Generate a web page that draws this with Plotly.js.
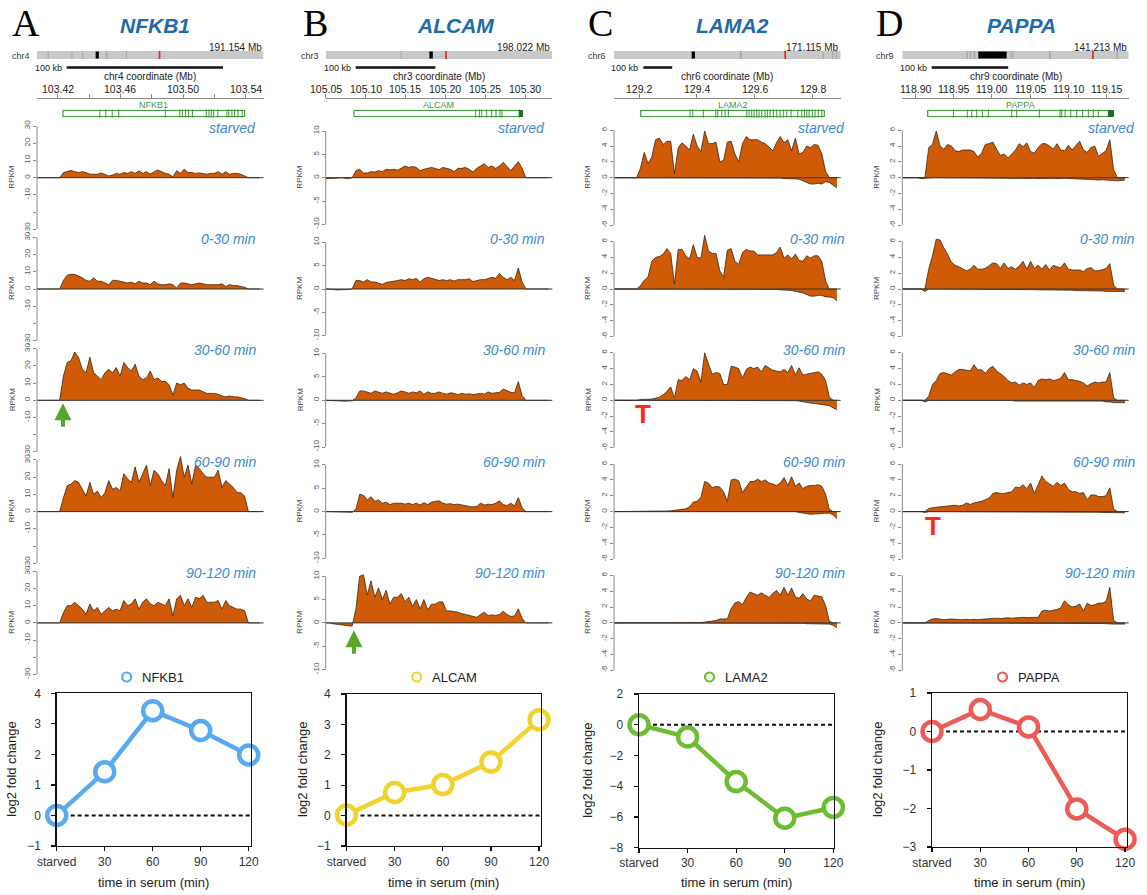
<!DOCTYPE html>
<html><head><meta charset="utf-8">
<script src="https://cdn.plot.ly/plotly-3.0.1.min.js"></script>
<style>html,body{margin:0;padding:0;background:#fff;}#chart{width:1147px;height:895px;}</style>
</head><body><div id="chart"></div>
<script>
// ================= DATA =================
const geneNames = ['NFKB1','ALCAM','LAMA2','PAPPA'];
const panelLetters = ['A','B','C','D'];
const chromNames = ['chr4','chr3','chr6','chr9'];
const chromLengthMb = [191.154,198.022,171.115,141.213];
const centromereBandsMb = [[[49.5,52.2]],[[90.6,93.6]],[[58.6,61.1]],[[47.4,65.1]]];
const faintBandsMb = [
  [[9,10],[29,30],[38,39],[58,59.5],[75,76]],
  [[65.5,66.5]],
  [[95,96.5],[157.5,158.5],[164.5,165.5],[167.5,168.5]],
  [[40,41],[42,43],[44.5,45.5],[67.3,68],[68.5,69.2],[91.5,92.5],[133.5,134.5]]
];
const viewStartMb = [103.4066,105.05,129.1136,118.883];
const viewEndMb = [103.5515,105.3342,129.8967,119.1788];
const binSizeMb = [0.002415,0.004737,0.013052,0.00493];
const coordTickVals = [
  [103.42,103.44,103.46,103.48,103.50,103.52,103.54],
  [105.05,105.10,105.15,105.20,105.25,105.30],
  [129.2,129.4,129.6,129.8],
  [118.90,118.95,119.00,119.05,119.10,119.15]
];
const coordTickText = [
  ['103.42','','103.46','','103.50','','103.54'],
  ['105.05','105.10','105.15','105.20','105.25','105.30'],
  ['129.2','129.4','129.6','129.8'],
  ['118.90','118.95','119.00','119.05','119.10','119.15']
];
const geneStartMb = [103.4232,105.0854,129.2058,118.9162];
const geneEndMb = [103.5394,105.2966,129.8401,119.1587];
const exonsNFKB1 = [103.4468,103.4506,103.4547,103.4589,103.4887,103.4979,103.4996,103.5017,103.5036,103.5060,103.5149,103.5166,103.5181,103.5196,103.5223,103.5281,103.5293,103.5313,103.5330,103.5351,103.5379];
const exonsALCAM = [105.2381,105.2427,105.2457,105.2519,105.2582,105.2636,105.2686,105.2711,105.2928];
const exonsLAMA2 = [129.3762,129.3855,129.4222,129.4650,129.4719,129.4857,129.4972,129.5086,129.5722,129.5801,129.5894,129.5974,129.6067,129.6147,129.6240,129.6354,129.6434,129.6527,129.6641,129.6759,129.6872,129.6986,129.7104,129.7253,129.7485,129.7623,129.7713,129.7796,129.7874,129.7988,129.8082,129.8196,129.8314];
const exonsPAPPA = [118.9497,118.9679,118.9737,118.9802,118.9876,118.9954,119.0260,119.0325,119.0621,119.0891,119.0913,119.0956,119.1031,119.1109,119.1187,119.1261,119.1326,119.1391];
const filledEndMb = [null,[105.2928,105.2966],null,[119.1522,119.1587]];
const scaleBarStartMb = [103.4256,105.0876,129.2149,118.9214];
const scaleBarKb = 100;
const rpkmTicks = [[-30,-20,-10,0,10,20,30],[-10,-5,0,5,10],[-6,-4,-2,0,2,4,6],[-6,-4,-2,0,2,4,6]];
const rpkmTickText = [['-30','','-10','0','10','20','30'],['-10','-5','0','5','10'],['-6','-4','-2','0','2','4','6'],['-6','-4','-2','0','2','4','6']];
const sampleLabels = ['starved','0-30 min','30-60 min','60-90 min','90-120 min'];

// RPKM per genomic bin (60 bins per locus)
const nfkb1_starved = [0,0,0,0,0,0,0,3,3.5,4.2, 3.5,3,3.5,3,2,1.8,2,2.8,2,1, 1.5,2.5,2,3,2.5,3.5,2.5,4,2.5,3.5, 2.2,3.5,4.5,3.5,2.5,2,0.5,4,2.5,5, 3,3,2.5,2.8,2.5,2,2.5,2.5,3.5,2, 3.5,2,2.5,2.5,2,1,0,0,0,0];
const nfkb1_0_30 = [0,0,0,0,0,0,0,5,8,8.5, 8.5,7.5,6.5,5,4.5,6.5,4.5,4.5,3.5,2.5, 5,5,4.5,4,3.5,4,3,4.5,3.5,3.5, 2.5,4.5,3,2.5,2.5,3,2.5,0.5,3.5,3.5, 3,2.5,3,3.5,3,2.5,2.5,2.5,2.5,3, 1.5,2.5,2,2,1.5,1,0,0,0,0];
const nfkb1_30_60 = [0,0,0,0,0,0,0,14,22,23, 28,25,18,16,25,16,14,12,16,18, 16,19,14,22,19,17,21,14,12,13, 17,12,13,11,11,9,3,10,9,10, 7,6,6,6,5,4,4,4,3.5,2.5, 2,2.5,2,2,1.5,1,0,0,0,0];
const nfkb1_60_90 = [0,0,0,0,0,0,0,8,15,16, 18,17,13,9,17,10,12,8,11,18, 13,14,12,22,19,17,26,17,22,27, 15,24,22,18,15,25,8,24,32,20, 27,16,27,25,22,20,20,20,24,14, 18,16,14,11,11,9,0,0,0,0];
const nfkb1_90_120 = [0,0,0,0,0,0,0,6,10,10, 12,10,8,5,11,7,9,5,7,9, 7,8,7,13,10,11,14,8,12,14, 11,10,12,11,10,14,4,14,16,10, 14,9,15,14,16,12,12,12,13,8, 13,10,9,8,8,7,0,0,0,0];

const alcam_starved = [-0.2,-0.2,-0.2,-0.1,0,-0.1,-0.2,0,1.5,1.8, 1,1,1.3,1.2,1.5,1.3,1.8,1.7,1.8,1.6, 2,2.5,2.2,2.4,2.2,1.5,1.8,2,2.2,2, 1.7,2.2,2,1.8,1.3,2,2,2.2,1.8,1.2, 2,2.5,3,2.2,2.5,2,2.5,3.3,2.5,1.5, 2.5,3.4,2,0,0,0,0,0,0,0];
const alcam_0_30 = [0,0,-0.1,-0.2,-0.2,-0.2,-0.1,0,1.8,1.8, 1.5,2,1.5,1.5,1.2,1,1.4,1.5,1.6,1.8, 2,1.8,2.2,2,2.3,1.5,2.2,2.5,2.3,2, 1.8,2,1.8,2,1.7,2,2,2,2.2,1.6, 1.8,2,2,2.2,2.5,2.3,3.3,2.5,2,2.5, 1.8,4.5,1.5,0,0,0,0,0,0,0];
const alcam_30_60 = [0,0,0,-0.1,-0.15,-0.2,-0.2,-0.1,0.5,2, 2,1.8,1.5,2,1.7,1.5,1.8,1.5,1.3,1.6, 2,1.8,1.5,1.8,1.6,2,1.3,1.8,1.5,1.5, 1.8,1.5,1.3,1.6,1.5,1.2,1.5,1.3,1.4,1.2, 1.3,1.5,1.3,1.8,1.5,1.6,1.7,2.4,2,1.7, 1.6,4,1,0,0,0,0,0,0,0];
const alcam_60_90 = [0,0,0,-0.15,-0.15,-0.15,-0.15,-0.15,0.5,3.7, 3.5,2.5,3.2,2.2,2.5,1.8,2,1.5,1.8,1.8, 1.8,1.6,1.8,1.5,1.8,1.4,1.9,1.5,2,2.2, 2.3,1.8,1.6,1.7,1.5,1.6,1.4,1.3,1.1,1, 1.1,1.8,1.4,1.6,1.5,1.8,2.3,1.5,1.3,1.8, 1.2,3,0.8,0,0,0,0,0,0,0];
const alcam_90_120 = [0,0,-0.2,-0.3,-0.4,-0.5,-0.5,-0.7,3,10, 10.3,6,9,5.5,7.5,5,7,4,5.5,5.5, 6.3,4.5,5.5,3.5,5,3,5,2.8,4,4, 4.5,4.5,2.5,2.6,2.4,2.3,2,1.8,1.7,1.4, 1.2,1.8,2.3,1.6,1.7,1.6,1.8,2.5,1.8,1.4, 1.5,3,1,0,0,0,0,0,0,0];

const lama2_starved = [0,0,0,0,0,0,0,1.2,3.2,1.8, 2.6,4.8,5,4.2,4.6,4.6,0.5,3.8,4.4,4, 3.5,5.5,4,3.3,5.9,4.3,4.3,4.5,2,2.2, 4.5,4.6,3,2,4.3,5.2,4.8,4.8,4.8,4.5, 4.3,3.9,3.4,4.4,5.2,4.4,4.8,3.4,5,3, 3.2,4,3.8,4.2,4.1,3,0.8,0,0,0];
const lama2_0_30 = [0,0,0,0,0,0,0,0.4,1.1,1.5, 3.5,4,4.1,4.4,5.1,4.5,0.6,5,5,4.2, 3.8,5.6,4,3.9,6.8,4.8,4.5,4.5,2.3,1.5, 4.9,5.1,3.5,3.1,4.6,5,4.8,4.8,4.3,4.3, 4.3,4.3,4.3,4.6,5.3,3.9,4.3,3.8,4.4,3.6, 3.5,4.2,3.9,4.2,4.2,3.5,1,0,0,0];
const lama2_30_60 = [0,0,0,0,0,0,0,0.1,0.1,0.1, 0.15,0.25,0.4,0.7,1.1,1.7,0.3,2.6,2.5,3, 2.6,4,3.7,2.3,6,4.6,3.3,3.5,3.4,2, 2,4.3,4.2,4,2.8,3.9,4.2,4,4.2,3.6, 4.4,4.1,3.8,3.7,3.6,3.9,3.5,4.4,3.2,4.1, 3.2,3.3,3.4,3.5,3.6,3.3,2.5,0.4,0,0];
const lama2_60_90 = [0,0,0,0,0,0,0,0,0,0, 0.02,0.03,0.05,0.05,0.08,0.1,0.15,0.2,0.25,0.35, 0.6,1.2,1.3,1.8,3.8,3.6,3,3.2,3.1,2.5, 1.3,4,4.1,3.9,2.4,3.1,3.8,3.8,4.1,3.8, 4,3.6,3.5,3.3,3.6,4.3,3.3,4.4,3.2,3.6, 2.9,3.2,3.3,3.3,3.4,3.2,2.2,0.3,0,0];
const lama2_90_120 = [0,0,0,0,0,0,0,0,0,0, 0,0,0,0,0,0,0,0,0,0, 0,0,0.02,0.05,0.1,0.15,0.2,0.3,0.5,0.5, 0.5,1.8,2.5,2.7,2.3,3.2,3.9,3.7,3.5,3.8, 3.5,3.2,3.7,4.1,3.5,4.5,3.5,4.4,3.3,3.1, 3.7,3,2.8,3.5,3.4,3.3,2.2,0.2,0,0];
const lama2_minus_starved = [0,0,0,0,0,0,0,0,0,0, 0,0,0,0,0,0,0,0,0,0, 0,0,0,0,0,0,0,0,0,0, 0,0,0,0,0,0,0,0,0,0, 0,0,-0.05,-0.05,-0.05,-0.1,-0.1,-0.1,-0.15,-0.2, -0.4,-0.6,-0.8,-0.8,-0.7,-0.8,-0.5,-0.6,-0.9,-1.3];
const lama2_minus_0_30 = [0,0,0,0,0,0,0,0,0,0, 0,0,0,0,0,0,0,0,0,0, 0,0,0,0,0,0,0,0,0,0, 0,0,0,0,0,0,0,0,0,0, 0,0,-0.05,-0.05,-0.1,-0.1,-0.15,-0.2,-0.3,-0.4, -0.5,-0.7,-0.9,-0.9,-0.8,-0.8,-1,-1,-1.1,-1.5];
const lama2_minus_30_60 = [0,0,0,0,0,0,0,0,0,0, 0,0,0,0,0,0,0,0,0,0, 0,0,0,0,0,0,0,0,0,0, 0,0,0,0,0,0,0,0,0,0, 0,0,0,0,0,0,0,0,-0.05,-0.1, -0.2,-0.3,-0.35,-0.4,-0.45,-0.5,-0.6,-0.7,-0.9,-1.2];
const lama2_minus_60_90 = [0,0,0,0,0,0,0,0,0,0, 0,0,0,0,0,0,0,0,0,0, 0,0,0,0,0,0,0,0,0,0, 0,0,0,0,0,0,0,0,0,0, 0,0,0,0,0,0,0,0,0,-0.1, -0.2,-0.3,-0.35,-0.3,-0.3,-0.25,-0.2,-0.2,-0.4,-0.9];
const lama2_minus_90_120 = [0,0,0,0,0,0,0,0,0,0, 0,0,0,0,0,0,0,0,0,0, 0,0,0,0,0,0,0,0,0,0, 0,0,0,0,0,0,0,0,0,0, 0,0,0,0,0,0,0,0,0,0, -0.05,-0.1,-0.1,-0.1,-0.1,-0.1,-0.1,-0.15,-0.3,-0.6];

const pappa_starved = [0,0,0,0,0,0,0,3.8,4.2,5.9, 4,3.6,4.2,4,3.4,3.3,3.5,3.5,3.5,3.3, 2.6,3.1,4.2,4.3,4.5,3.6,2.8,3,2.5,3, 3.5,4.3,3.9,4.4,3.3,3.1,3.8,4.3,4.3,4, 3.6,4.3,3.5,3.4,4.1,3.5,4,4.6,3.5,3.2, 3.8,4,2.7,3,3.4,4.8,1,0,0,0];
const pappa_0_30 = [0,0,0,0,0,0,0,2.5,4.2,6.3, 6.2,5.2,4.4,3.4,3,2.8,2.5,2.3,2.5,3, 2.5,2.5,2.6,2.9,3.3,3.2,2.6,3.3,2.6,2.8, 2.5,2.9,3.5,2.5,3.5,2.6,3,2.5,3.1,2.4, 3,2.8,2.7,3.3,2.5,2.4,2.4,2.4,2.2,2.6, 2.7,2.3,2.3,2.5,2.6,3.2,0.5,0,0,0];
const pappa_30_60 = [0,0,0,0,0,0,0,0.5,2,2.5, 3.4,3.5,3.3,3.2,3.6,3.9,3.9,3.8,3.7,4.5, 3.8,3.9,3.4,4,4.3,3.7,3.4,3,2.5,2.2, 2.3,1.9,2.2,2,2.2,1.6,2.5,2.7,2.6,2.7, 2.5,2.6,2.8,3.5,2.6,2.6,2.5,2.4,2.2,1.8, 2.1,2.3,2.2,2.3,2.3,3.5,0.3,0,0,0];
const pappa_60_90 = [0,0,0,0,0,0,0,0.4,0.5,0.55, 0.6,0.65,0.7,0.75,0.8,0.7,0.8,1.1,0.9,1.1, 1.2,1.3,1.5,1.7,2.3,2.4,2.3,2.3,2.4,2.5, 3.1,3,3.4,2.9,3.6,2.3,3.4,4.5,3.8,3.5, 3.2,3.7,3.3,3.6,2.8,2.5,2.5,2.3,2.4,1.5, 2.1,2.1,1.9,1.9,2,3,0.3,0,0,0];
const pappa_90_120 = [0,0,0,0,0,0,0,0.3,0.5,0.55, 0.5,0.4,0.45,0.5,0.45,0.4,0.4,0.45,0.4,0.45, 0.4,0.45,0.5,0.55,0.6,0.6,0.55,0.6,0.65,0.6, 0.65,0.7,0.7,0.65,0.7,0.7,0.7,1.5,1.6,1.5, 1.6,1.7,1.9,2.8,2.3,2,2.1,2.4,1.5,2.5, 2.2,2.3,2.5,2.5,2.7,4.5,0.3,0,0,0];
const pappa_minus_starved = [0,0,0,0,0,-0.1,-0.05,0,0,0, 0,0,0,0,0,0,0,0,0,0, 0,0,0,0,0,0,0,0,-0.05,-0.05, -0.08,-0.05,-0.08,-0.1,-0.05,-0.08,-0.1,-0.08,-0.05,-0.1, -0.08,-0.1,-0.05,-0.08,-0.1,-0.12,-0.1,-0.15,-0.12,-0.15, -0.2,-0.25,-0.3,-0.25,-0.3,-0.35,-0.4,-0.4,-0.35,-0.3];
const pappa_minus_0_30 = [0,0,0,0,0,0,-0.3,0,0,0, 0,0,0,0,0,0,0,0,0,0, 0,0,0,0,0,0,0,0,0,0, -0.05,-0.05,-0.05,-0.08,-0.08,-0.1,-0.1,-0.1,-0.1,-0.12, -0.12,-0.15,-0.15,-0.15,-0.15,-0.15,-0.2,-0.2,-0.2,-0.2, -0.2,-0.2,-0.25,-0.25,-0.3,-0.3,-0.35,-0.35,-0.3,-0.3];
const pappa_minus_30_60 = [0,0,0,0,0,0,-0.2,0,0,0, 0,0,0,0,0,0,0,0,0,0, 0,0,0,0,0,0,0,0,0,0, -0.1,-0.1,-0.1,-0.1,-0.1,-0.1,-0.1,-0.1,-0.1,-0.1, -0.1,-0.1,-0.1,-0.1,-0.1,-0.1,-0.1,-0.1,-0.1,-0.1, -0.1,-0.1,-0.1,-0.1,-0.2,-0.2,-0.3,-0.3,-0.3,-0.3];
const pappa_minus_60_90 = [0,0,0,0,0,0,-0.1,0,0,0, 0,0,0,0,0,0,0,0,0,0, 0,0,0,0,0,0,0,0,0,0, -0.05,-0.05,-0.05,-0.05,-0.05,-0.05,-0.05,-0.05,-0.05,-0.05, -0.05,-0.05,-0.05,-0.05,-0.05,-0.05,-0.05,-0.05,-0.05,-0.05, -0.05,-0.05,-0.08,-0.1,-0.1,-0.15,-0.15,-0.15,-0.15,-0.15];
const pappa_minus_90_120 = [0,0,0,0,0,0,0,0,0,0, 0,0,0,0,0,0,0,0,0,0, 0,0,0,0,0,0,0,0,0,0, 0,0,0,0,0,0,0,0,0,0, -0.05,-0.05,-0.05,-0.05,-0.05,-0.05,-0.05,-0.05,-0.05,-0.05, -0.05,-0.05,-0.05,-0.08,-0.1,-0.15,-0.15,-0.15,-0.15,-0.15];

// qPCR time course
const timeMin = [0,30,60,90,120];
const timeLabels = ['starved','30','60','90','120'];
const log2FoldNFKB1 = [0,1.43,3.43,2.78,1.98];
const log2FoldALCAM = [0.02,0.76,1.02,1.76,3.15];
const log2FoldLAMA2 = [0,-0.8,-3.7,-6.08,-5.38];
const log2FoldPAPPA = [0,0.57,0.12,-2.01,-2.8];
const foldRanges = [[-1,4],[-1,4],[-8,2],[-3,1]];
const foldTicks = [[-1,0,1,2,3,4],[-1,0,1,2,3,4],[-8,-6,-4,-2,0,2],[-3,-2,-1,0,1]];
const lineColors = ['#58aaf0','#f2d22c','#6bbd33','#ee5b56'];

// ================= BUILD =================
const exonsMb = [exonsNFKB1, exonsALCAM, exonsLAMA2, exonsPAPPA];
const plusTracks = [
  [nfkb1_starved,nfkb1_0_30,nfkb1_30_60,nfkb1_60_90,nfkb1_90_120],
  [alcam_starved,alcam_0_30,alcam_30_60,alcam_60_90,alcam_90_120],
  [lama2_starved,lama2_0_30,lama2_30_60,lama2_60_90,lama2_90_120],
  [pappa_starved,pappa_0_30,pappa_30_60,pappa_60_90,pappa_90_120]
];
const minusTracks = [null,null,
  [lama2_minus_starved,lama2_minus_0_30,lama2_minus_30_60,lama2_minus_60_90,lama2_minus_90_120],
  [pappa_minus_starved,pappa_minus_0_30,pappa_minus_30_60,pappa_minus_60_90,pappa_minus_90_120]
];
const foldValues = [log2FoldNFKB1, log2FoldALCAM, log2FoldLAMA2, log2FoldPAPPA];

const W = 1147, H = 895;
const px = v => v / W;
const py = v => 1 - v / H;
const axKey = (p,i) => p + 'axis' + (i === 1 ? '' : i);
const ref = (p,i) => p + (i === 1 ? '' : i);

const G = [
  {trackL:37, trackR:263.5, unit:30/51.65, lineL:56.7, lineR:250.7, lineTop:693.3, lineBot:846, lineXmax:121.25, sampleR:258, letterX:26, titleX:155, rpkmX:12, chrR:32, foldTitleX:12},
  {trackL:325.7, trackR:552.3, unit:10/46.7, lineL:346.5, lineR:541, lineTop:694, lineBot:846, lineXmax:121.2, sampleR:547, letterX:315, titleX:455, rpkmX:300, chrR:321, foldTitleX:302},
  {trackL:614, trackR:840.7, unit:6/47.5, lineL:639, lineR:834, lineTop:694, lineBot:847.7, lineXmax:120.4, sampleR:847, letterX:600, titleX:732, rpkmX:588, chrR:608, foldTitleX:588},
  {trackL:902.3, trackR:1128.7, unit:6/47.5, lineL:932, lineR:1127, lineTop:693, lineBot:847, lineXmax:121.2, sampleR:1137, letterX:890, titleX:1021, rpkmX:877, chrR:896, foldTitleX:877}
];
const Z = [177.7, 289, 400.3, 511.6, 622.9];
const fillCol = '#cf5b07', edgeCol = '#3c2614', geneGreen = '#3f9a3a', sampleBlue = '#3a8ad8';

const layout = {
  width: W, height: H, margin: {l:0,r:0,t:0,b:0},
  paper_bgcolor: '#fff', plot_bgcolor: 'rgba(0,0,0,0)', showlegend: false,
  font: {family: 'Liberation Sans, Arial, sans-serif', color: '#222'},
  shapes: [], annotations: []
};
const traces = [];
const S = layout.shapes, A = layout.annotations;

for (let c = 0; c < 4; c++) {
  const g = G[c];
  const xi = 1 + 3*c, xm = 2 + 3*c, xl = 3 + 3*c;
  const yi = 1 + 8*c, yg = 2 + 8*c, yl = 8 + 8*c;
  const xDom = [px(g.trackL), px(g.trackR)];

  // panel letter and gene title
  A.push({xref:'paper', yref:'paper', x:px(g.letterX), y:py(23), text:panelLetters[c], showarrow:false,
    font:{family:'Liberation Serif, DejaVu Serif, serif', size:38, color:'#000'}, xanchor:'center', yanchor:'middle'});
  A.push({xref:'paper', yref:'paper', x:px(g.titleX), y:py(26), text:'<b><i>'+geneNames[c]+'</i></b>', showarrow:false,
    font:{size:21, color:'#1f6ba9'}, xanchor:'center', yanchor:'middle'});

  // ideogram
  layout[axKey('x',xi)] = {domain:xDom, range:[0, chromLengthMb[c]], visible:false, fixedrange:true, anchor:ref('y',yi)};
  layout[axKey('y',yi)] = {domain:[py(59), py(51)], range:[0,1], visible:false, fixedrange:true, anchor:ref('x',xi)};
  S.push({type:'rect', xref:ref('x',xi), yref:ref('y',yi), x0:0, x1:chromLengthMb[c], y0:0, y1:1, fillcolor:'#c9c9c9', line:{width:0}, layer:'below'});
  faintBandsMb[c].forEach(b => S.push({type:'rect', xref:ref('x',xi), yref:ref('y',yi), x0:b[0], x1:b[1], y0:0, y1:1, fillcolor:'#a9a9a9', line:{width:0}, layer:'below'}));
  centromereBandsMb[c].forEach(b => S.push({type:'rect', xref:ref('x',xi), yref:ref('y',yi), x0:b[0], x1:b[1], y0:0.05, y1:0.95, fillcolor:'#000', line:{width:0}, layer:'below'}));
  traces.push({type:'scatter', mode:'markers', x:[geneStartMb[c]], y:[0.5], xaxis:ref('x',xi), yaxis:ref('y',yi),
    marker:{symbol:'line-ns', size:12, line:{color:'#ee1c1c', width:1.6}}, hoverinfo:'skip'});
  A.push({xref:'paper', yref:'paper', x:px(g.chrR), y:py(55.5), text:chromNames[c], showarrow:false, xanchor:'right', yanchor:'middle', font:{size:9, color:'#333'}});
  A.push({xref:'paper', yref:'paper', x:px(g.trackR), y:py(47.5), text:chromLengthMb[c].toFixed(3)+' Mb', showarrow:false, xanchor:'right', yanchor:'middle', font:{size:10, color:'#222'}});

  // coordinate axis + gene model
  layout[axKey('x',xm)] = {domain:xDom, range:[viewStartMb[c], viewEndMb[c]], anchor:ref('y',yg), side:'top',
    showline:true, linecolor:'#8a8a8a', linewidth:1, ticks:'outside', ticklen:4, tickcolor:'#8a8a8a',
    tickvals:coordTickVals[c], showticklabels:false,
    showgrid:false, zeroline:false, fixedrange:true};
  coordTickVals[c].forEach((v, j) => {
    if (coordTickText[c][j]) A.push({xref:ref('x',xm), yref:'paper', x:v, y:py(89.5), text:coordTickText[c][j], showarrow:false,
      xanchor:'center', yanchor:'middle', font:{size:10.5, color:'#222'}});
  });
  layout[axKey('y',yg)] = {domain:[py(121), py(99)], range:[0,1], visible:false, fixedrange:true, anchor:ref('x',xm)};
  S.push({type:'line', xref:ref('x',xm), yref:'paper', x0:scaleBarStartMb[c], x1:scaleBarStartMb[c] + scaleBarKb/1000, y0:py(67.5), y1:py(67.5), line:{color:'#111', width:2.5}});
  A.push({xref:ref('x',xm), yref:'paper', x:scaleBarStartMb[c], y:py(67.5), xshift:-3, text:scaleBarKb+' kb', showarrow:false, xanchor:'right', yanchor:'middle', font:{size:9, color:'#222'}});
  A.push({xref:ref('x',xm)+' domain', yref:'paper', x:0.5, y:py(77), text:chromNames[c]+' coordinate (Mb)', showarrow:false, xanchor:'center', yanchor:'middle', font:{size:10, color:'#222'}});
  A.push({xref:ref('x',xm), yref:'paper', x:(geneStartMb[c]+geneEndMb[c])/2, y:py(105.5), text:geneNames[c], showarrow:false, xanchor:'center', yanchor:'middle', font:{size:9, color:geneGreen}});
  S.push({type:'rect', xref:ref('x',xm), yref:'paper', x0:geneStartMb[c], x1:geneEndMb[c], y0:py(116.5), y1:py(110.5), line:{color:geneGreen, width:1.2}, fillcolor:'rgba(0,0,0,0)'});
  if (filledEndMb[c]) S.push({type:'rect', xref:ref('x',xm), yref:'paper', x0:filledEndMb[c][0], x1:filledEndMb[c][1], y0:py(116.5), y1:py(110.5), line:{color:'#1f6e1f', width:1}, fillcolor:'#1f6e1f'});
  traces.push({type:'scatter', mode:'markers', x:exonsMb[c], y:exonsMb[c].map(() => 0.34), xaxis:ref('x',xm), yaxis:ref('y',yg),
    marker:{symbol:'line-ns', size:6, line:{color:geneGreen, width:1}}, hoverinfo:'skip'});

  // RPKM tracks
  for (let k = 0; k < 5; k++) {
    const yt = 3 + 8*c + k, z = Z[k];
    const tv = rpkmTicks[c];
    layout[axKey('y',yt)] = {domain:[py(z+52), py(z-57)], range:[-52*g.unit, 57*g.unit], anchor:ref('x',xm),
      tickvals:tv, ticktext:rpkmTickText[c], ticks:'outside', ticklen:3, tickcolor:'#8a8a8a', tickangle:-90,
      tickfont:{size:8, color:'#555'}, showline:false, showgrid:false, zeroline:false, fixedrange:true};
    const plus = plusTracks[c][k];
    const bins = plus.map((_, i) => viewStartMb[c] + i*binSizeMb[c]);
    if (minusTracks[c]) {
      traces.push({type:'scatter', mode:'lines', x:bins, y:minusTracks[c][k], xaxis:ref('x',xm), yaxis:ref('y',yt),
        fill:'tozeroy', fillcolor:fillCol, line:{color:edgeCol, width:0.8}, hoverinfo:'skip'});
    }
    traces.push({type:'scatter', mode:'lines', x:bins, y:plus, xaxis:ref('x',xm), yaxis:ref('y',yt),
      fill:'tozeroy', fillcolor:fillCol, line:{color:edgeCol, width:0.8}, hoverinfo:'skip'});
    S.push({type:'line', xref:ref('x',xm)+' domain', yref:ref('y',yt), x0:0, x1:1, y0:0, y1:0, line:{color:'#333', width:1}});
    S.push({type:'line', xref:ref('x',xm)+' domain', yref:ref('y',yt), x0:0, x1:0, y0:tv[0], y1:tv[tv.length-1], line:{color:'#8a8a8a', width:1}});
    A.push({xref:'paper', yref:'paper', x:px(g.sampleR), y:py(z-50), text:'<i>'+sampleLabels[k]+'</i>', showarrow:false, xanchor:'right', yanchor:'middle', font:{size:14, color:sampleBlue}});
    A.push({xref:'paper', yref:'paper', x:px(g.rpkmX), y:py(z), text:'RPKM', textangle:-90, showarrow:false, xanchor:'center', yanchor:'middle', font:{size:8, color:'#444'}});
  }

  // fold-change line chart
  layout[axKey('x',xl)] = {domain:[px(g.lineL), px(g.lineR)], range:[0, g.lineXmax], anchor:ref('y',yl),
    tickvals:timeMin, ticktext:timeLabels, showline:true, mirror:true, linecolor:'#111', linewidth:1.3,
    ticks:'outside', ticklen:4, tickwidth:1.3, tickcolor:'#111', tickfont:{size:12, color:'#333'},
    showgrid:false, zeroline:false, fixedrange:true};
  layout[axKey('y',yl)] = {domain:[py(g.lineBot), py(g.lineTop)], range:foldRanges[c], anchor:ref('x',xl),
    tickvals:foldTicks[c], showline:true, mirror:true, linecolor:'#111', linewidth:1.3,
    ticks:'outside', ticklen:4, tickwidth:1.3, tickcolor:'#111', tickfont:{size:12, color:'#333'}, ticklabelstandoff:8,
    showgrid:false, zeroline:false, fixedrange:true};
  S.push({type:'line', xref:ref('x',xl)+' domain', yref:ref('y',yl), x0:0, x1:1, y0:0, y1:0, layer:'below', line:{color:'#111', width:2, dash:'4px,3px'}});
  traces.push({type:'scatter', mode:'lines+markers', x:timeMin, y:foldValues[c], xaxis:ref('x',xl), yaxis:ref('y',yl),
    line:{color:lineColors[c], width:4.5}, marker:{size:19, color:'#fff', line:{color:lineColors[c], width:4.5}}, cliponaxis:false, hoverinfo:'skip'});
  const xc = (g.lineL + g.lineR)/2;
  S.push({type:'circle', xref:'paper', yref:'paper', x0:px(xc-31.5), x1:px(xc-22.5), y0:py(681.5), y1:py(672.5), line:{color:lineColors[c], width:2.2}, fillcolor:'#fff'});
  A.push({xref:'paper', yref:'paper', x:px(xc-14), y:py(677), text:geneNames[c], showarrow:false, xanchor:'left', yanchor:'middle', font:{size:13, color:'#222'}});
  A.push({xref:'paper', yref:'paper', x:px(g.foldTitleX), y:py((g.lineTop+g.lineBot)/2), text:'log2 fold change', textangle:-90, showarrow:false, xanchor:'center', yanchor:'middle', font:{size:13, color:'#222'}});
  A.push({xref:'paper', yref:'paper', x:px(xc), y:py(882), text:'time in serum (min)', showarrow:false, xanchor:'center', yanchor:'middle', font:{size:13, color:'#222'}});
}

// induction arrows (green) and repression marks (red T)
const arrowMarks = [{c:0, k:2, y:-1.7}, {c:1, k:4, y:-1.6}];
arrowMarks.forEach(m => A.push({xref:ref('x',2+3*m.c), yref:ref('y',3+8*m.c+m.k), x:geneStartMb[m.c], y:m.y, text:'', showarrow:true,
  arrowhead:2, arrowsize:0.85, arrowwidth:4, arrowcolor:'#56a72b', ax:0, ay:25}));
const repressMarks = [{c:2, k:2, shift:2}, {c:3, k:3, shift:5}];
repressMarks.forEach(m => A.push({xref:ref('x',2+3*m.c), yref:ref('y',3+8*m.c+m.k), x:geneStartMb[m.c], y:0, xshift:m.shift, yshift:3, text:'<b>T</b>', showarrow:false,
  xanchor:'center', yanchor:'top', font:{size:26, color:'#ff2a1a'}}));

Plotly.newPlot('chart', traces, layout, {staticPlot:true, displayModeBar:false});
</script>
</body></html>
